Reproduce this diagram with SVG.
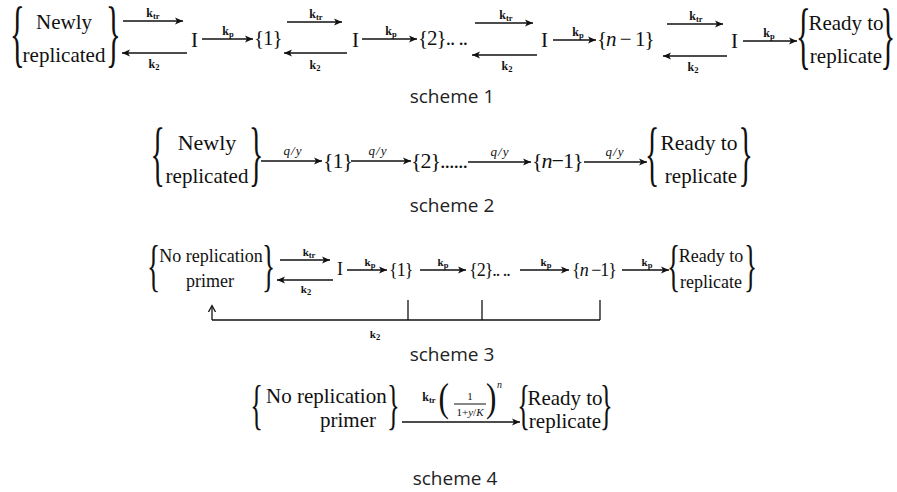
<svg xmlns="http://www.w3.org/2000/svg" width="897" height="492" viewBox="0 0 897 492">
<style>
.t{font-family:"Liberation Serif","Times New Roman",serif;fill:#111}
.br{font-family:"Liberation Serif","Times New Roman",serif;fill:#111}
.c{text-anchor:middle}
.num{letter-spacing:-1px}
.lab{font-family:"Liberation Serif","Times New Roman",serif;font-weight:bold;font-size:12px;fill:#111;text-anchor:middle}
.lab3{font-family:"Liberation Serif","Times New Roman",serif;font-weight:bold;font-size:11px;fill:#111;text-anchor:middle}
.sub{font-size:8.5px}
.q{font-family:"Liberation Serif","Times New Roman",serif;font-style:italic;font-size:13px;fill:#111;text-anchor:middle;letter-spacing:1px}
.cap{font-family:"Open Sans","Noto Sans",sans-serif;font-size:19px;fill:#222;text-anchor:middle}
.ln{stroke:#111;stroke-width:1.6;fill:none}
.ln3{stroke:#111;stroke-width:1.3;fill:none}
.ar{marker-end:url(#ah)}
</style>
<defs>
<marker id="ah" markerUnits="userSpaceOnUse" markerWidth="10" markerHeight="8" refX="8" refY="4" orient="auto"><path d="M0,0.5 L8,4 L0,7.5 L2,4 z" fill="#111"/></marker>
<marker id="op" markerUnits="userSpaceOnUse" markerWidth="10" markerHeight="10" refX="6" refY="4" orient="auto"><path d="M0,0.5 L6.5,4 L0,7.5" fill="none" stroke="#111" stroke-width="1.3"/></marker>
</defs>

<!-- Scheme 1 -->
<g id="s1-newly">
<text class="br" transform="translate(10,58) scale(0.42,1)" font-size="73">{</text>
<text class="t c" x="64" y="29" font-size="21">Newly</text>
<text class="t c" x="64" y="62" font-size="21">replicated</text>
<text class="br" transform="translate(106,58) scale(0.42,1)" font-size="73">}</text>
</g>
<g id="s1-I1"><text class="t" x="191" y="47" font-size="21">I</text></g>
<g id="s1-n1"><text class="t num" x="254" y="45" font-size="21">{1}</text></g>
<g id="s1-I2"><text class="t" x="352" y="47" font-size="21">I</text></g>
<g id="s1-n2"><text class="t num" x="418" y="45" font-size="21">{2}.. ..</text></g>
<g id="s1-I3"><text class="t" x="541" y="47" font-size="21">I</text></g>
<g id="s1-nm1"><text class="t num" x="597" y="46" font-size="21">{<tspan font-style="italic">n</tspan> − 1}</text></g>
<g id="s1-I4"><text class="t" x="731" y="48" font-size="21">I</text></g>
<g id="s1-ready">
<text class="br" transform="translate(796,60) scale(0.42,1)" font-size="73">{</text>
<text class="t c" x="846" y="30" font-size="21">Ready to</text>
<text class="t c" x="846" y="63" font-size="21">replicate</text>
<text class="br" transform="translate(880.5,60) scale(0.42,1)" font-size="73">}</text>
</g>
<g id="s1-connectors">
<line class="ln ar" x1="123" y1="21" x2="183" y2="21"/>
<line class="ln ar" x1="187" y1="53" x2="122" y2="53"/>
<text class="lab" x="153" y="17">k<tspan class="sub" dy="2">tr</tspan></text>
<text class="lab" x="154" y="68">k<tspan class="sub" dy="2">2</tspan></text>
<line class="ln ar" x1="202" y1="39" x2="253" y2="39"/>
<text class="lab" x="228" y="35">k<tspan class="sub" dy="2">p</tspan></text>
<line class="ln ar" x1="287" y1="22" x2="342" y2="22"/>
<line class="ln ar" x1="347" y1="53" x2="284" y2="53"/>
<text class="lab" x="316" y="18">k<tspan class="sub" dy="2">tr</tspan></text>
<text class="lab" x="315" y="69">k<tspan class="sub" dy="2">2</tspan></text>
<line class="ln ar" x1="362" y1="39" x2="417" y2="39"/>
<text class="lab" x="391" y="35">k<tspan class="sub" dy="2">p</tspan></text>
<line class="ln ar" x1="475" y1="23" x2="533" y2="23"/>
<line class="ln ar" x1="537" y1="55" x2="472" y2="55"/>
<text class="lab" x="506" y="19">k<tspan class="sub" dy="2">tr</tspan></text>
<text class="lab" x="507" y="70">k<tspan class="sub" dy="2">2</tspan></text>
<line class="ln ar" x1="553" y1="40" x2="596" y2="40"/>
<text class="lab" x="578" y="36">k<tspan class="sub" dy="2">p</tspan></text>
<line class="ln ar" x1="667" y1="24" x2="723" y2="24"/>
<line class="ln ar" x1="727" y1="56" x2="663" y2="56"/>
<text class="lab" x="696" y="20">k<tspan class="sub" dy="2">tr</tspan></text>
<text class="lab" x="693" y="71">k<tspan class="sub" dy="2">2</tspan></text>
<line class="ln ar" x1="743" y1="41" x2="797" y2="41"/>
<text class="lab" x="769" y="37">k<tspan class="sub" dy="2">p</tspan></text>
</g>
<text class="cap" x="452" y="103">scheme 1</text>

<!-- Scheme 2 -->
<g id="s2-newly">
<text class="br" transform="translate(150.5,177) scale(0.42,1)" font-size="71">{</text>
<text class="t c" x="207" y="150" font-size="22">Newly</text>
<text class="t c" x="207" y="183" font-size="21">replicated</text>
<text class="br" transform="translate(249,177) scale(0.42,1)" font-size="71">}</text>
</g>
<g id="s2-n1"><text class="t num" x="323" y="168" font-size="22">{1}</text></g>
<g id="s2-n2"><text class="t num" x="411" y="168" font-size="22">{2}......</text></g>
<g id="s2-nm1"><text class="t num" x="532" y="168" font-size="22">{<tspan font-style="italic">n</tspan>−1}</text></g>
<g id="s2-ready">
<text class="br" transform="translate(645,177) scale(0.42,1)" font-size="71">{</text>
<text class="t c" x="699" y="150" font-size="21.5">Ready to</text>
<text class="t c" x="701" y="183" font-size="21">replicate</text>
<text class="br" transform="translate(738.5,177) scale(0.42,1)" font-size="71">}</text>
</g>
<g id="s2-connectors">
<line class="ln ar" x1="261" y1="161" x2="322" y2="161"/>
<text class="q" x="293" y="155">q/y</text>
<line class="ln ar" x1="351" y1="161" x2="411" y2="161"/>
<text class="q" x="378" y="155">q/y</text>
<line class="ln ar" x1="468" y1="162" x2="531" y2="162"/>
<text class="q" x="500" y="156">q/y</text>
<line class="ln ar" x1="584" y1="162" x2="647" y2="162"/>
<text class="q" x="615" y="156">q/y</text>
</g>
<text class="cap" x="452" y="212">scheme 2</text>

<!-- Scheme 3 -->
<g id="s3-primer">
<text class="br" transform="translate(147,284.6) scale(0.48,1)" font-size="57">{</text>
<text class="t c" x="211" y="262" font-size="18">No replication</text>
<text class="t c" x="210" y="287" font-size="18">primer</text>
<text class="br" transform="translate(262,284.6) scale(0.48,1)" font-size="57">}</text>
</g>
<g id="s3-I"><text class="t" x="337" y="275" font-size="18">I</text></g>
<g id="s3-n1"><text class="t num" x="389" y="276" font-size="18">{1}</text></g>
<g id="s3-n2"><text class="t num" x="469" y="276" font-size="18">{2}.. ..</text></g>
<g id="s3-nm1"><text class="t num" x="572" y="276" font-size="18">{<tspan font-style="italic">n</tspan> −1}</text></g>
<g id="s3-ready">
<text class="br" transform="translate(667,284.6) scale(0.48,1)" font-size="57">{</text>
<text class="t c" x="711" y="262" font-size="18">Ready to</text>
<text class="t c" x="711" y="288" font-size="18">replicate</text>
<text class="br" transform="translate(744,284.6) scale(0.48,1)" font-size="57">}</text>
</g>
<g id="s3-connectors">
<line class="ln3 ar" x1="280" y1="260" x2="330" y2="260"/>
<text class="lab3" x="309" y="256">k<tspan class="sub" dy="2">tr</tspan></text>
<line class="ln3 ar" x1="333" y1="280" x2="277" y2="280"/>
<text class="lab3" x="306" y="293">k<tspan class="sub" dy="2">2</tspan></text>
<line class="ln3 ar" x1="347" y1="270" x2="387" y2="270"/>
<text class="lab3" x="370" y="266">k<tspan class="sub" dy="2">p</tspan></text>
<line class="ln3 ar" x1="420" y1="270" x2="466" y2="270"/>
<text class="lab3" x="443" y="266">k<tspan class="sub" dy="2">p</tspan></text>
<line class="ln3 ar" x1="520" y1="270" x2="569" y2="270"/>
<text class="lab3" x="546" y="266">k<tspan class="sub" dy="2">p</tspan></text>
<line class="ln3 ar" x1="622" y1="270" x2="669" y2="270"/>
<text class="lab3" x="647" y="266">k<tspan class="sub" dy="2">p</tspan></text>
<line class="ln3" x1="408" y1="300" x2="408" y2="320"/>
<line class="ln3" x1="482" y1="300" x2="482" y2="320"/>
<line class="ln3" x1="600" y1="300" x2="600" y2="320"/>
<line class="ln3" x1="600" y1="320" x2="212" y2="320"/>
<line class="ln3" x1="212" y1="320" x2="212" y2="306" marker-end="url(#op)"/>
<text class="lab3" x="375" y="338">k<tspan class="sub" dy="2">2</tspan></text>
</g>
<text class="cap" x="452" y="361">scheme 3</text>

<!-- Scheme 4 -->
<g id="s4-primer">
<text class="br" transform="translate(250.3,423) scale(0.48,1)" font-size="55">{</text>
<text class="t" x="266" y="403" font-size="21">No replication</text>
<text class="t" x="320" y="427" font-size="21">primer</text>
<text class="br" transform="translate(387,423) scale(0.48,1)" font-size="55">}</text>
</g>
<g id="s4-ready">
<text class="br" transform="translate(517.3,423) scale(0.48,1)" font-size="55">{</text>
<text class="t c" x="565" y="405" font-size="21">Ready to</text>
<text class="t c" x="565" y="428" font-size="21">replicate</text>
<text class="br" transform="translate(600,423) scale(0.48,1)" font-size="55">}</text>
</g>
<g id="s4-connectors">
<line class="ln ar" x1="402" y1="422" x2="520" y2="422"/>
<text class="lab" x="429" y="401">k<tspan class="sub" dy="2">tr</tspan></text>
<text class="br" transform="translate(438.5,411) scale(0.8,1)" font-size="39">(</text>
<text class="t c" x="470" y="400" font-size="11">1</text>
<line x1="454" y1="404" x2="486" y2="404" stroke="#111" stroke-width="1"/>
<text class="t c" x="470" y="416" font-size="11">1+<tspan font-style="italic">y</tspan>/<tspan font-style="italic">K</tspan></text>
<text class="br" transform="translate(486,411) scale(0.8,1)" font-size="39">)</text>
<text class="t" x="497" y="388" font-size="10" font-style="italic">n</text>
</g>
<text class="cap" x="455" y="485">scheme 4</text>
</svg>
